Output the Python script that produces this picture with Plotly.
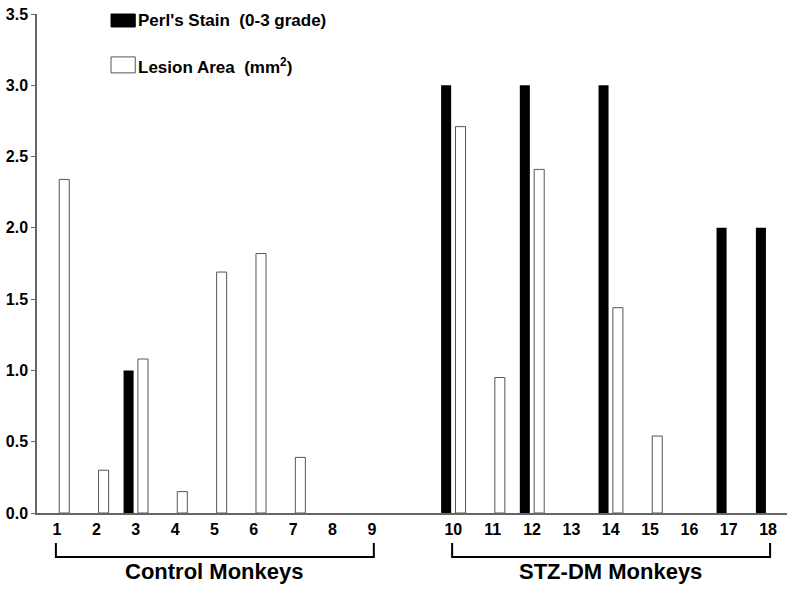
import plotly.graph_objects as go

monkeys = [str(i) for i in range(1, 19)]
perls_stain = [0, 0, 1, 0, 0, 0, 0, 0, 0, 3, 0, 3, 0, 3, 0, 0, 2, 2]
lesion_area = [2.34, 0.30, 1.08, 0.15, 1.69, 1.82, 0.39, 0, 0,
               2.71, 0.95, 2.41, 0, 1.44, 0.54, 0, 0, 0]
groups = ["Control Monkeys", "STZ-DM Monkeys"]
group_sizes = [9, 9]
y_ticks = [0.0, 0.5, 1.0, 1.5, 2.0, 2.5, 3.0, 3.5]

GAP = 1.07
pos = []
for i in range(len(monkeys)):
    pos.append(i + 1 + (GAP if i >= group_sizes[0] else 0))


def nz(vals):
    return [v if v != 0 else None for v in vals]


FONT = "Liberation Sans, Arial, sans-serif"
fig = go.Figure()
fig.add_trace(go.Bar(x=pos, y=nz(perls_stain), name="Perl's Stain (0-3 grade)",
                     marker=dict(color="black", line=dict(color="black", width=0)),
                     width=0.255, offset=-0.31, showlegend=False))
fig.add_trace(go.Bar(x=pos, y=nz(lesion_area), name="Lesion Area (mm²)",
                     marker=dict(color="white", line=dict(color="#555555", width=1)),
                     width=0.255, offset=0.055, showlegend=False))

fig.update_layout(
    width=795, height=592,
    margin=dict(l=37, r=8, t=14, b=79),
    paper_bgcolor="white", plot_bgcolor="white",
    barmode="overlay",
    font=dict(family=FONT, color="black"),
    xaxis=dict(range=[0.49, 19.55], tickvals=pos, ticktext=monkeys, automargin=False,
               showgrid=False, zeroline=False, showline=True, linecolor="#666666",
               linewidth=1.5, ticks="", ticklabelstandoff=1,
               tickfont=dict(size=16, family=FONT, weight="bold")),
    yaxis=dict(range=[0, 3.5], tickvals=y_ticks, ticktext=[f"{v:.1f}" for v in y_ticks],
               automargin=False,
               showgrid=False, zeroline=False, showline=True, linecolor="#666666",
               linewidth=1.5, ticks="outside", ticklen=4, tickcolor="#666666",
               tickfont=dict(size=16, family=FONT, weight="bold")),
)

# group brackets and labels
start = 0
for g, n in zip(groups, group_sizes):
    x0 = pos[start] - 0.03
    x1 = pos[start + n - 1] + 0.05
    path = f"M {x0},-0.060 L {x0},-0.088 L {x1},-0.088 L {x1},-0.060"
    fig.add_shape(type="path", path=path, xref="x", yref="paper",
                  line=dict(color="black", width=2))
    fig.add_annotation(x=(pos[start] + pos[start + n - 1]) / 2, y=-0.118,
                       xref="x", yref="paper", text=f"<b>{g}</b>", showarrow=False,
                       font=dict(size=22, family=FONT, color="black"),
                       xanchor="center", yanchor="middle")
    start += n

# manual legend
fig.add_shape(type="rect", xref="paper", yref="paper", x0=0.0987, x1=0.131,
              y0=0.974, y1=1.0, fillcolor="black", line=dict(color="black", width=1))
fig.add_shape(type="rect", xref="paper", yref="paper", x0=0.0987, x1=0.131,
              y0=0.882, y1=0.914, fillcolor="white", line=dict(color="#555555", width=1))
fig.add_annotation(x=0.132, y=0.986, xref="paper", yref="paper",
                   text="<b>Perl's Stain&nbsp;&nbsp;(0-3 grade)</b>", showarrow=False,
                   xanchor="left", yanchor="middle", font=dict(size=17, family=FONT))
fig.add_annotation(x=0.132, y=0.896, xref="paper", yref="paper",
                   text="<b>Lesion Area&nbsp;&nbsp;(mm<sup>2</sup>)</b>", showarrow=False,
                   xanchor="left", yanchor="middle", font=dict(size=17, family=FONT))

fig.write_html("out.html", config={"displayModeBar": False},
               post_script="document.body.style.margin='0';document.body.style.overflow='hidden';")
